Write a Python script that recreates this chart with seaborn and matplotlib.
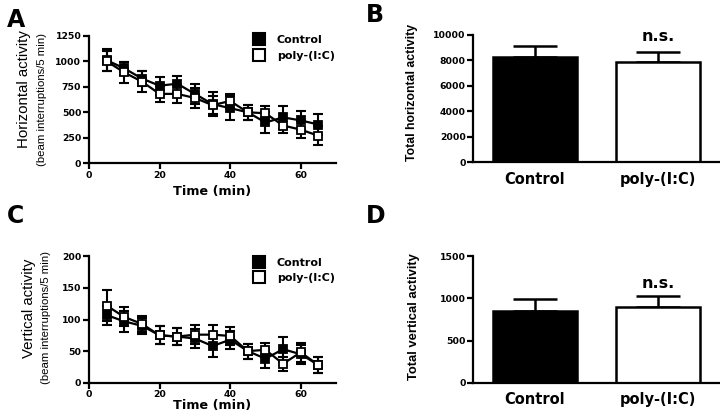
import matplotlib
matplotlib.use("Agg")
import matplotlib.pyplot as plt
from matplotlib.lines import Line2D
from matplotlib.font_manager import FontProperties
import seaborn as sns
import pandas as pd

# ---------------- data ----------------
times = [5, 10, 15, 20, 25, 30, 35, 40, 45, 50, 55, 60, 65]
groups = ["Control", "poly-(I:C)"]

hor_control = [1010, 930, 830, 760, 780, 680, 580, 540, 500, 400, 450, 420, 380]
hor_control_sem = [110, 65, 75, 90, 80, 95, 120, 115, 75, 100, 110, 90, 100]
hor_poly = [1000, 890, 800, 680, 680, 640, 570, 610, 500, 490, 370, 330, 270]
hor_poly_sem = [100, 100, 100, 75, 85, 100, 90, 70, 75, 70, 70, 80, 95]

vert_control = [107, 97, 90, 75, 73, 70, 58, 68, 50, 38, 53, 45, 28]
vert_control_sem = [15, 16, 13, 14, 13, 15, 17, 14, 12, 14, 20, 15, 13]
vert_poly = [122, 104, 93, 75, 73, 76, 76, 74, 50, 52, 30, 48, 28]
vert_poly_sem = [25, 15, 13, 14, 14, 15, 16, 14, 12, 11, 11, 15, 13]

hor_total = [8300, 7850]
hor_total_sem = [870, 840]
vert_total = [855, 902]
vert_total_sem = [140, 130]

hor_yticks = [0, 250, 500, 750, 1000, 1250]
vert_yticks = [0, 50, 100, 150, 200]
time_ticks = [0, 20, 40, 60]
hor_total_ticks = [0, 2000, 4000, 6000, 8000, 10000]
vert_total_ticks = [0, 500, 1000, 1500]

# ---------------- style ----------------
sns.set_style("ticks")
plt.rcParams["font.family"] = ["DejaVu Sans"]
plt.rcParams["axes.linewidth"] = 1.6
for k in ["text.color", "axes.labelcolor", "xtick.color", "ytick.color", "axes.edgecolor"]:
    plt.rcParams[k] = "black"

W, H = 720, 418
fig = plt.figure(figsize=(W / 100, H / 100), dpi=100)


def rect(left, top, right, bottom):
    return [left / W, 1 - bottom / H, (right - left) / W, (bottom - top) / H]


axA = fig.add_axes(rect(89, 35.7, 336, 163.3))
axC = fig.add_axes(rect(89, 256.3, 336, 382.7))
axB = fig.add_axes(rect(473.3, 35, 720, 162.3))
axD = fig.add_axes(rect(473.3, 256.3, 720, 382.7))

tickfont = dict(family="DejaVu Sans", weight="bold", size=6.7)


def style_axis(ax):
    sns.despine(ax=ax)
    ax.tick_params(direction="out", length=4, width=1.6, pad=1.5, colors="black")
    for lab in ax.get_xticklabels() + ax.get_yticklabels():
        lab.set_fontproperties(FontProperties(**tickfont))


def time_panel(ax, ctrl, ctrl_sem, poly, poly_sem, yticks, legend_top, spacing):
    df = pd.DataFrame({
        "time": times * 2,
        "value": ctrl + poly,
        "group": [groups[0]] * len(times) + [groups[1]] * len(times),
    })
    ax.errorbar(times, ctrl, yerr=ctrl_sem, fmt="none", ecolor="black",
                elinewidth=1.5, capsize=3.5, capthick=1.5, zorder=2, clip_on=False)
    ax.errorbar(times, poly, yerr=poly_sem, fmt="none", ecolor="black",
                elinewidth=1.5, capsize=3.5, capthick=1.5, zorder=2, clip_on=False)
    n_before = len(ax.get_lines())
    sns.lineplot(data=df, x="time", y="value", hue="group", style="group",
                 markers={groups[0]: "s", groups[1]: "s"}, dashes=False,
                 palette={groups[0]: "black", groups[1]: "black"},
                 markersize=5.5, linewidth=1.6, markeredgecolor="black",
                 markeredgewidth=1.3, legend=False, ax=ax, zorder=3)
    new_lines = ax.get_lines()[n_before:]
    new_lines[0].set_zorder(3)
    new_lines[1].set_markerfacecolor("white")
    new_lines[1].set_zorder(4)
    for l in new_lines:
        l.set_clip_on(False)
    ax.set_xlim(0, 70)
    ax.set_ylim(yticks[0], yticks[-1])
    ax.set_xticks(time_ticks)
    ax.set_yticks(yticks)
    ax.set_xlabel("")
    ax.set_ylabel("")
    style_axis(ax)
    handles = [
        Line2D([], [], marker="s", ls="none", color="black", markersize=9,
               markerfacecolor="black", markeredgecolor="black", markeredgewidth=1.5),
        Line2D([], [], marker="s", ls="none", color="black", markersize=9,
               markerfacecolor="white", markeredgecolor="black", markeredgewidth=1.5),
    ]
    ax.legend(handles, groups, loc="upper left", bbox_to_anchor=(0.661, legend_top),
              frameon=False, borderaxespad=0, borderpad=0, handlelength=1.2,
              handletextpad=1.0, labelspacing=spacing,
              prop=dict(family="DejaVu Sans", weight="bold", size=8))


def bar_panel(ax, vals, sems, yticks, ns_y):
    df = pd.DataFrame({"group": groups, "value": vals})
    sns.barplot(data=df, x="group", y="value", hue="group",
                palette={groups[0]: "black", groups[1]: "white"},
                edgecolor="black", linewidth=1.8, width=0.68, errorbar=None,
                legend=False, ax=ax, zorder=2)
    ax.errorbar([0, 1], vals, yerr=[[0, 0], sems], fmt="none", ecolor="black",
                elinewidth=1.8, capsize=16, capthick=1.8, zorder=1)
    ax.set_xlim(-0.5, 1.5)
    ax.set_ylim(yticks[0], yticks[-1])
    ax.set_yticks(yticks)
    ax.set_xlabel("")
    ax.set_ylabel("")
    style_axis(ax)
    ax.tick_params(axis="x", length=0, pad=7)
    for lab in ax.get_xticklabels():
        lab.set_fontproperties(FontProperties(family="DejaVu Sans", weight="bold", size=10.5))
    ax.text(1, ns_y, "n.s.", ha="center", va="baseline",
            fontsize=11.5, fontweight="bold", transform=ax.transData)


time_panel(axA, hor_control, hor_control_sem, hor_poly, hor_poly_sem,
           hor_yticks, 1.005, 0.55)
time_panel(axC, vert_control, vert_control_sem, vert_poly, vert_poly_sem,
           vert_yticks, 0.985, 0.42)
bar_panel(axB, hor_total, hor_total_sem, hor_total_ticks, 9500)
bar_panel(axD, vert_total, vert_total_sem, vert_total_ticks, 1120)

# ---------------- labels ----------------
def ftext(x, y, s, **kw):
    fig.text(x / W, 1 - y / H, s, **kw)

ftext(24, 89.5, "Horizontal activity", rotation=90, ha="center", va="center",
      family="Liberation Sans", fontsize=10.8)
ftext(42, 99.5, "(beam interruptions/5 min)", rotation=90, ha="center", va="center",
      family="Liberation Sans", fontsize=8.2)
ftext(29, 308, "Vertical activity", rotation=90, ha="center", va="center",
      family="Liberation Sans", fontsize=10.8)
ftext(46, 317, "(beam interruptions/5 min)", rotation=90, ha="center", va="center",
      family="Liberation Sans", fontsize=8.2)
ftext(412, 92.5, "Total horizontal activity", rotation=90, ha="center", va="center",
      family="Liberation Sans", fontweight="bold", fontsize=8.8)
ftext(414, 317, "Total vertical activity", rotation=90, ha="center", va="center",
      family="Liberation Sans", fontweight="bold", fontsize=9.4)
ftext(212, 191, "Time (min)", ha="center", va="center", fontweight="bold", fontsize=9.2)
ftext(212, 405, "Time (min)", ha="center", va="center", fontweight="bold", fontsize=9.2)

for x, y, s in [(7, 8, "A"), (366, 3, "B"), (7, 204, "C"), (366, 204, "D")]:
    ftext(x, y, s, ha="left", va="top", fontweight="bold", fontsize=17)

fig.savefig("out.png", dpi=100)
